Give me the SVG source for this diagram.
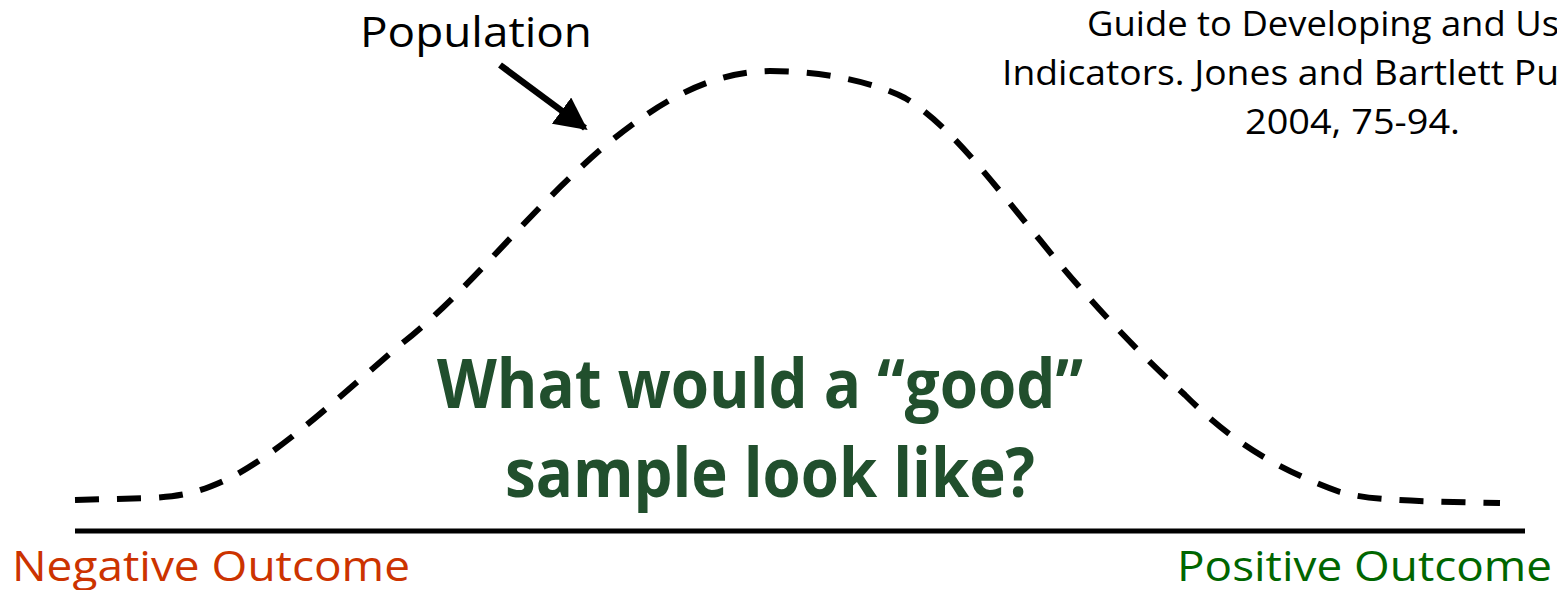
<svg xmlns="http://www.w3.org/2000/svg" width="1557" height="590" viewBox="0 0 1557 590">
<style>
text{font-family:"Open Sans","Liberation Sans",sans-serif}
.lbl{font-size:42px;fill:#000}
.cite{font-size:35px;fill:#000}
.q{font-size:68px;font-weight:bold;fill:#214f2d;text-anchor:middle}
.neg{font-size:42px;fill:#cc3300}
.pos{font-size:42px;fill:#006600}
.curve{fill:none;stroke:#000;stroke-width:6;stroke-dasharray:24 18}
</style>
<defs>
<marker id="ah" viewBox="0 0 10 10" refX="9" refY="5" markerWidth="5" markerHeight="5" orient="auto" markerUnits="strokeWidth">
<path d="M0,0 L10,5 L0,10 z" fill="#000"/>
</marker>
</defs>
<rect width="1557" height="590" fill="#fff"/>
<g id="axis"><line x1="75" y1="531" x2="1525" y2="531" stroke="#000" stroke-width="5"/></g>
<g id="population-curve">
<path class="curve" d="M75,500 L150,498 C185,496 200,492 230,478 C280,452 330,405 400,345 C470,290 520,220 600,150 C660,100 710,72 770,71 C830,71 880,85 905,98 C950,125 990,180 1040,240 C1080,290 1130,345 1185,395 C1235,445 1280,470 1340,492 C1370,500 1400,501 1500,503"/>
</g>
<g id="connectors">
<line x1="500" y1="65" x2="585" y2="128" stroke="#000" stroke-width="6.5" marker-end="url(#ah)"/>
</g>
<g id="population-label"><text class="lbl" x="360" y="47" textLength="232" lengthAdjust="spacingAndGlyphs">Population</text></g>
<g id="citation">
<text class="cite" x="1087" y="36" textLength="472" lengthAdjust="spacingAndGlyphs">Guide to Developing and Us</text>
<text class="cite" x="1002" y="85" textLength="557" lengthAdjust="spacingAndGlyphs">Indicators. Jones and Bartlett Pu</text>
<text class="cite" x="1245" y="134" textLength="215" lengthAdjust="spacingAndGlyphs">2004, 75-94.</text>
</g>
<g id="question">
<text class="q" x="760" y="408" textLength="646" lengthAdjust="spacingAndGlyphs">What would a “good”</text>
<text class="q" x="770" y="497" textLength="530" lengthAdjust="spacingAndGlyphs">sample look like?</text>
</g>
<g id="negative"><text class="neg" x="12" y="581" textLength="398" lengthAdjust="spacingAndGlyphs">Negative Outcome</text></g>
<g id="positive"><text class="pos" x="1177" y="581" textLength="375" lengthAdjust="spacingAndGlyphs">Positive Outcome</text></g>
</svg>
